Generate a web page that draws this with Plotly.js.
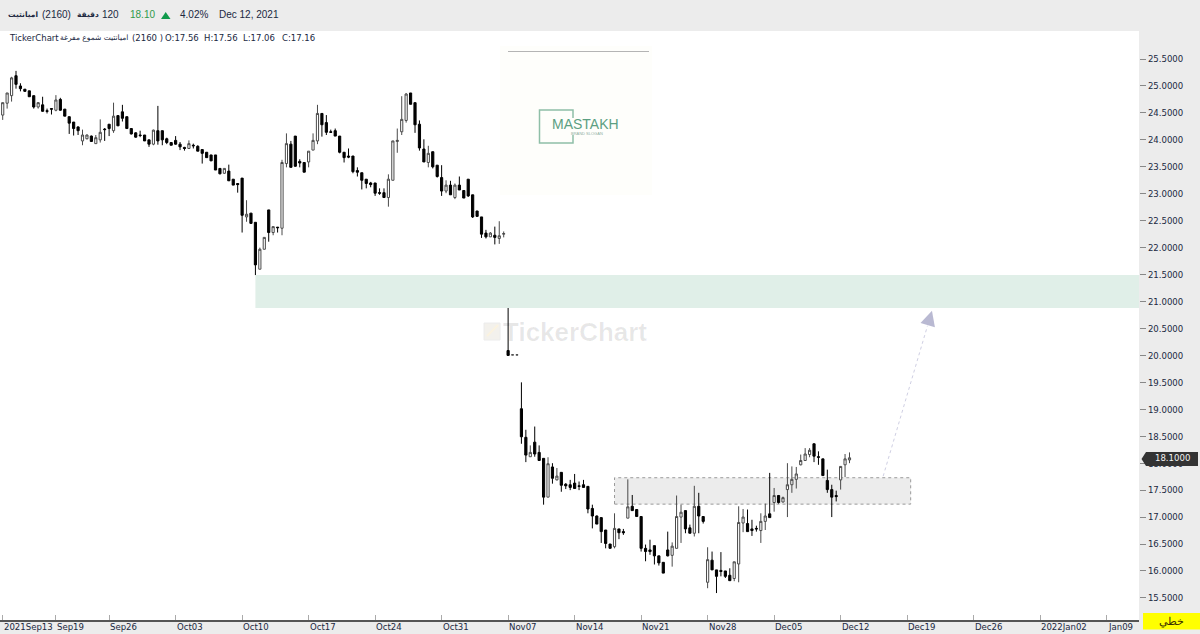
<!DOCTYPE html>
<html><head><meta charset="utf-8">
<script src="https://cdn.plot.ly/plotly-3.0.1.min.js"></script>
<style>html,body{margin:0;padding:0;background:#ececec}#c{width:1200px;height:634px}</style>
</head><body><div id="c"></div>
<script>
const opens=[24.46,24.68,24.82,25.19,25.00,24.94,24.91,24.82,24.61,24.65,
24.54,24.58,24.55,24.75,24.57,24.43,24.33,24.24,23.98,24.02,
24.07,23.93,24.00,24.20,24.29,24.17,24.45,24.52,24.43,24.21,
24.13,24.09,24.09,24.00,23.92,24.17,24.17,24.02,23.95,23.99,
23.92,23.86,23.84,23.90,23.88,23.82,23.77,23.72,23.72,23.47,
23.38,23.42,23.27,23.19,23.29,22.57,22.64,22.47,21.60,21.97,
22.70,22.28,22.38,22.36,23.56,23.92,24.07,23.60,23.58,23.59,
23.81,23.98,24.49,24.32,24.15,24.17,24.07,23.77,23.70,23.70,
23.43,23.39,23.27,23.20,23.20,23.02,23.02,22.93,23.25,23.97,
24.15,24.36,24.87,24.69,24.29,23.83,23.58,23.78,23.53,23.30,
23.05,23.16,22.93,23.16,23.06,23.27,22.98,22.68,22.57,22.27,
22.20,22.23,22.17,22.25,20.09,20.01,20.01,19.01,18.48,18.12,
18.39,18.20,18.09,17.37,17.93,17.69,17.83,17.61,17.60,17.63,
17.58,17.60,17.57,17.16,17.02,16.99,16.76,16.50,16.45,16.78,
16.73,16.98,17.20,17.14,17.01,16.42,16.39,16.47,16.28,16.16,
16.39,16.29,16.42,17.00,17.12,16.80,16.70,17.20,17.01,15.79,
16.20,16.02,16.01,16.00,15.92,15.86,16.13,16.89,16.88,16.78,
16.79,16.75,16.92,17.06,17.27,17.40,17.28,17.51,17.60,17.70,
17.97,18.05,18.16,18.36,18.12,18.08,17.68,17.51,17.40,17.69,17.97,18.06];
const highs=[24.69,24.87,25.17,25.28,25.05,24.94,24.91,24.82,24.70,24.80,
24.58,24.59,24.83,24.78,24.57,24.43,24.33,24.25,24.19,24.10,
24.08,24.09,24.38,24.22,24.29,24.69,24.45,24.65,24.43,24.22,
24.14,24.17,24.09,24.00,24.19,24.63,24.17,24.04,23.95,24.07,
23.96,23.87,23.99,23.93,23.90,23.82,23.77,23.72,23.72,23.47,
23.47,23.54,23.27,23.19,23.29,22.88,22.64,22.47,22.00,22.19,
22.70,22.39,22.38,23.63,24.12,23.98,24.07,23.64,23.58,23.79,
24.12,24.65,24.49,24.46,24.19,24.21,24.07,23.77,23.84,23.70,
23.49,23.39,23.27,23.22,23.20,23.10,23.10,23.36,23.98,24.21,
24.81,24.87,24.87,24.69,24.36,24.01,23.89,23.78,23.53,23.53,
23.25,23.24,23.19,23.32,23.06,23.27,22.98,22.68,22.57,22.33,
22.29,22.39,22.49,22.30,20.88,20.01,20.01,19.50,18.62,18.33,
18.68,18.33,18.09,18.11,18.00,17.91,17.83,17.63,17.69,17.80,
17.66,17.69,17.57,17.23,17.03,16.99,16.76,16.50,17.07,16.78,
16.78,17.70,17.41,17.14,17.01,16.49,16.58,16.47,16.28,16.16,
16.73,16.53,17.40,17.23,17.12,16.86,17.58,17.45,17.01,16.44,
16.36,16.02,16.35,16.00,16.05,16.17,17.20,17.15,17.14,16.95,
16.84,17.07,17.25,17.82,17.54,17.41,17.38,18.00,17.94,17.93,
18.16,18.28,18.28,18.36,18.22,18.08,17.88,17.60,17.49,17.94,18.17,18.20];
const lows=[24.37,24.58,24.71,24.95,24.90,24.89,24.80,24.58,24.58,24.52,
24.49,24.47,24.53,24.54,24.44,24.11,24.08,24.09,23.90,24.01,
23.96,23.93,23.95,23.98,24.07,24.13,24.26,24.34,24.21,24.10,
24.04,24.05,23.98,23.87,23.90,23.91,23.90,23.92,23.90,23.91,
23.81,23.80,23.83,23.84,23.79,23.56,23.67,23.61,23.44,23.36,
23.37,23.24,23.16,23.02,22.28,22.48,22.45,21.49,21.60,21.97,
22.11,22.23,22.28,22.23,23.49,23.49,23.50,23.49,23.40,23.49,
23.81,23.92,24.06,24.09,24.13,24.07,23.75,23.58,23.66,23.38,
23.32,23.08,23.10,23.12,22.96,22.98,22.93,22.76,23.25,23.76,
24.09,24.32,24.66,24.13,23.80,23.59,23.49,23.47,23.30,22.96,
23.01,22.98,22.90,23.07,22.92,22.94,22.55,22.58,22.18,22.17,
22.20,22.06,22.07,22.19,20.00,20.01,20.01,18.36,18.02,18.12,
18.12,18.05,17.23,17.37,17.62,17.68,17.47,17.52,17.50,17.53,
17.50,17.55,17.07,16.79,16.87,16.52,16.42,16.42,16.42,16.59,
16.67,16.98,17.12,17.01,16.36,16.18,16.30,16.12,16.10,15.96,
16.27,16.08,16.42,16.52,16.70,16.70,16.64,16.70,16.88,15.68,
16.02,15.59,15.90,15.87,15.82,15.81,15.79,16.72,16.73,16.65,
16.73,16.52,16.76,16.99,17.10,17.25,17.27,17.00,17.45,17.53,
17.96,18.04,18.11,18.02,17.97,17.77,17.45,17.00,17.29,17.51,17.74,18.00];
const closes=[24.69,24.87,25.15,25.03,24.95,24.90,24.80,24.61,24.69,24.53,
24.53,24.57,24.74,24.55,24.44,24.31,24.21,24.17,24.09,24.09,
23.97,24.04,24.14,24.19,24.21,24.44,24.26,24.40,24.21,24.11,
24.05,24.08,23.98,23.92,24.18,23.98,24.00,23.95,23.90,23.92,
23.87,23.84,23.93,23.89,23.79,23.75,23.67,23.61,23.44,23.37,
23.47,23.24,23.16,23.17,22.60,22.62,22.45,21.68,21.97,22.19,
22.28,22.39,22.37,23.58,23.93,23.49,23.51,23.57,23.40,23.79,
23.99,24.49,24.28,24.14,24.14,24.07,23.77,23.67,23.68,23.41,
23.40,23.25,23.19,23.17,23.01,23.01,22.93,23.27,23.98,23.99,
24.38,24.85,24.66,24.28,23.85,23.59,23.75,23.50,23.32,23.05,
23.16,22.98,23.16,23.07,22.92,22.96,22.57,22.58,22.25,22.20,
22.27,22.19,22.22,22.26,20.00,20.01,20.01,18.49,18.15,18.20,
18.17,18.05,17.37,17.99,17.72,17.76,17.59,17.58,17.55,17.53,
17.57,17.55,17.15,17.02,16.87,16.73,16.51,16.42,16.79,16.71,
16.71,17.19,17.12,17.01,16.42,16.36,16.36,16.28,16.15,15.96,
16.28,16.46,17.01,17.09,16.78,16.70,17.20,17.02,16.92,16.21,
16.02,15.90,15.99,15.90,15.82,16.17,16.90,17.00,16.73,16.75,
16.78,16.92,17.02,16.99,17.40,17.27,17.36,17.60,17.70,17.80,
18.05,18.17,18.24,18.13,18.11,17.77,17.51,17.37,17.38,17.94,18.08,18.10];
const tickIndex=[0,12,24,39,54,69,84,99,114,129,144,159,174,189,204,219,234,249];
const tickLabels=["2021Sep13","Sep19","Sep26","Oct03","Oct10","Oct17","Oct24","Oct31","Nov07","Nov14","Nov21","Nov28","Dec05","Dec12","Dec19","Dec26","2022Jan02","Jan09"];
const priceTicks=[15.5,16,16.5,17,17.5,18,18.5,19,19.5,20,20.5,21,21.5,22,22.5,23,23.5,24,24.5,25,25.5];
const lastPrice=18.10;
const resistanceZone=[20.88,21.49];
const supportZone=[17.24,17.73];
const arrowFrom=[198.6,17.76], arrowTo=[209.6,20.83], arrowNeck=[208.6,20.55];

const W=1200,H=634,L=0,R=61,T=31,B=14;
const FONT='"DejaVu Sans Condensed","Liberation Sans",sans-serif';
const DJV='"DejaVu Sans",sans-serif';
const INK='#20283f';
const px=x=>(x-L)/(W-L-R);
const py=y=>1-(y-T)/(H-T-B);
const text=(x,y,t,o={})=>({xref:'paper',yref:'paper',x:px(x),y:py(y),text:t,showarrow:false,
  xanchor:o.anchor||'left',yanchor:'middle',font:{family:o.family||'"Liberation Sans",sans-serif',size:o.size||10,color:o.color||INK},borderpad:0,borderwidth:0});

const xs=opens.map((_,i)=>i);
const trace={type:'candlestick',x:xs,open:opens,high:highs,low:lows,close:closes,whiskerwidth:0,hoverinfo:'skip',
  increasing:{line:{color:'#4a4a4a',width:1},fillcolor:'#ffffff'},
  decreasing:{line:{color:'#000000',width:1},fillcolor:'#000000'}};

const tickAnn=tickIndex.map((v,i)=>({xref:'x',yref:'paper',x:v,y:py(626.5),text:tickLabels[i],showarrow:false,
  xanchor:'left',yanchor:'middle',xshift:-1,font:{family:FONT,size:9.5,color:INK}}));

const shapes=[
 {type:'rect',xref:'paper',yref:'paper',x0:px(500),x1:px(652),y0:py(46),y1:py(195),fillcolor:'#fefefb',line:{width:0},layer:'below'},
 {type:'line',xref:'paper',yref:'paper',x0:px(508),x1:px(649),y0:py(51.5),y1:py(51.5),line:{color:'#b4b4b4',width:1}},
 {type:'path',xref:'paper',yref:'paper',line:{color:'#8fbfa8',width:1.5},
   path:`M ${px(573)} ${py(118)} L ${px(573)} ${py(110)} L ${px(539.5)} ${py(110)} L ${px(539.5)} ${py(143)} L ${px(573)} ${py(143)} L ${px(573)} ${py(135)}`},
 {type:'rect',xref:'x',yref:'y',x0:138,x1:204.8,y0:supportZone[0],y1:supportZone[1],fillcolor:'#ececec',
   line:{color:'#9a9a9a',width:1,dash:'dot'},layer:'below'},
 {type:'rect',xref:'x',yref:'y',x0:57,x1:256.5,y0:resistanceZone[0],y1:resistanceZone[1],fillcolor:'#e0efe8',line:{width:0},layer:'above'},
 {type:'line',xref:'x',yref:'y',x0:arrowFrom[0],y0:arrowFrom[1],x1:arrowNeck[0],y1:arrowNeck[1],line:{color:'#cfcfe3',width:1,dash:'dot'}},
 {type:'path',xref:'paper',yref:'paper',fillcolor:'#333333',line:{width:0},
   path:`M ${px(1141.5)} ${py(459)} L ${px(1146)} ${py(452)} L ${px(1198)} ${py(452)} L ${px(1198)} ${py(466)} L ${px(1146)} ${py(466)} Z`},
 {type:'rect',xref:'paper',yref:'paper',x0:px(1143),x1:px(1200),y0:py(613),y1:py(629.5),fillcolor:'#ffff00',line:{width:0}},
 {type:'path',xref:'paper',yref:'paper',fillcolor:'#109a4c',line:{width:0},
   path:`M ${px(161)} ${py(19)} L ${px(170.5)} ${py(19)} L ${px(165.7)} ${py(12)} Z`},
 {type:'rect',xref:'paper',yref:'paper',x0:px(484),x1:px(500),y0:py(323),y1:py(340),fillcolor:'#f3f1ec',line:{color:'#ececec',width:1},layer:'below'},
 {type:'path',xref:'paper',yref:'paper',line:{color:'#fbf3e0',width:2},layer:'below',
   path:`M ${px(487)} ${py(336)} L ${px(493)} ${py(330)} L ${px(498)} ${py(325)}`}
];

const annotations=[...tickAnn,
 text(38,14.5,'<b>اميانتيت</b>',{size:7.5,family:DJV,anchor:'right'}),
 text(42,14.5,'(2160)',{size:10}),
 text(99,14.5,'<b>دقيقة</b>',{size:7.5,family:DJV,anchor:'right'}),
 text(102,14.5,'120',{size:10}),
 text(130,14.5,'18.10',{size:10,color:'#2f9a4a'}),
 text(180,14.5,'4.02%',{size:10}),
 text(219,14.5,'Dec 12, 2021',{size:10}),
 text(9,37.5,'TickerChart',{size:8.5,family:DJV}),
 text(128,37.5,'اميانتيت شموع مفرغة',{size:7.5,family:DJV,anchor:'right'}),
 text(132,37.5,'(2160 )',{size:8.5,family:DJV}),
 text(165,37.5,'O:17.56',{size:8.5,family:DJV}),
 text(204,37.5,'H:17.56',{size:8.5,family:DJV}),
 text(243,37.5,'L:17.06',{size:8.5,family:DJV}),
 text(282,37.5,'C:17.16',{size:8.5,family:DJV}),
 text(552,124,'MASTAKH',{size:14,color:'#5c9f82'}),
 text(571,133.5,'BRAND SLOGAN',{size:4,color:'#8fae9f'}),
 text(503,332,'<b>TickerChart</b>',{size:26,color:'rgba(0,0,0,0.09)'}),
 text(1171.5,621,'خطي',{size:11,anchor:'center',color:'#3a3000'}),
 {xref:'paper',yref:'y',x:px(1172),y:lastPrice,text:'18.1000',showarrow:false,xanchor:'center',yanchor:'middle',
   font:{family:FONT,size:9.5,color:'#f2f2f2'}},
 {xref:'x',yref:'y',axref:'x',ayref:'y',x:arrowTo[0],y:arrowTo[1],ax:arrowNeck[0],ay:arrowNeck[1],text:'',showarrow:true,
   arrowhead:2,arrowsize:3,arrowwidth:1,arrowcolor:'#b9b9d2'}
];

const layout={width:W,height:H,margin:{l:L,r:R,t:T,b:B,pad:0},paper_bgcolor:'#ececec',plot_bgcolor:'#ffffff',
 showlegend:false,hovermode:false,dragmode:false,shapes,annotations,
 xaxis:{type:'linear',range:[-0.61,256.3],rangeslider:{visible:false},showgrid:false,zeroline:false,
   tickmode:'array',tickvals:tickIndex,ticktext:tickLabels.map(()=>''),ticks:'inside',ticklen:5,tickcolor:'#aaaaaa',tickwidth:1,
   showline:true,linecolor:'#555555',linewidth:2,fixedrange:true},
 yaxis:{side:'right',range:[15.09,26.02],tickmode:'array',tickvals:priceTicks,tickformat:'.4f',showgrid:false,zeroline:false,
   ticks:'outside',ticklen:6,tickcolor:'#888888',tickwidth:1,showline:false,fixedrange:true,
   tickfont:{family:FONT,size:9.5,color:INK}}};
Plotly.newPlot('c',[trace],layout,{displayModeBar:false,staticPlot:true});
</script></body></html>
